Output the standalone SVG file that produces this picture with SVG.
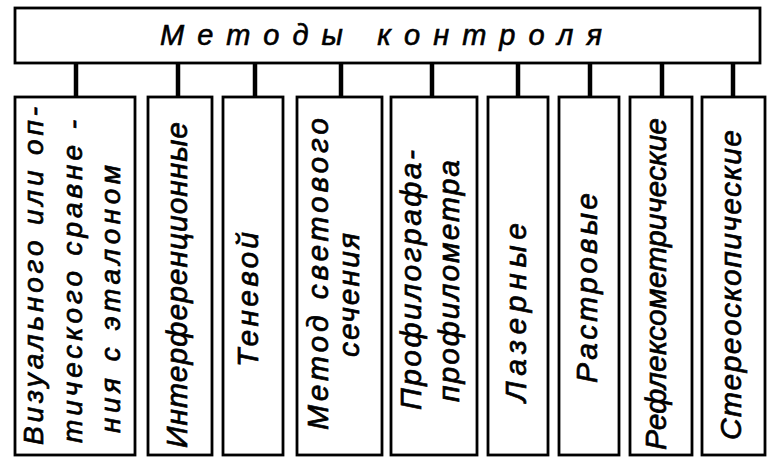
<svg xmlns="http://www.w3.org/2000/svg" width="781" height="474" viewBox="0 0 781 474">
<style>
.box{fill:#fff;stroke:#000;stroke-width:2.8}
.con{stroke:#000;stroke-width:4.5;fill:none}
.t{font-family:"Liberation Sans","DejaVu Sans",sans-serif;font-style:italic;font-size:30px;fill:#000;stroke:#000;stroke-width:0.7}
.title{font-family:"Liberation Sans","DejaVu Sans",sans-serif;font-style:italic;font-size:29px;fill:#000;stroke:#000;stroke-width:0.6}
</style>
<rect width="781" height="474" fill="#fff"/>
<g id="connectors">
<line class="con" x1="76" y1="63" x2="76" y2="97"/>
<line class="con" x1="178" y1="63" x2="178" y2="97"/>
<line class="con" x1="255" y1="63" x2="255" y2="97"/>
<line class="con" x1="341" y1="63" x2="341" y2="97"/>
<line class="con" x1="432" y1="63" x2="432" y2="97"/>
<line class="con" x1="518" y1="63" x2="518" y2="97"/>
<line class="con" x1="590" y1="63" x2="590" y2="97"/>
<line class="con" x1="662" y1="63" x2="662" y2="97"/>
<line class="con" x1="733" y1="63" x2="733" y2="97"/>
</g>
<g id="root">
<rect class="box" x="15" y="8" width="745" height="55"/>
<text class="title" x="160" y="45" textLength="442" lengthAdjust="spacing">Методы контроля</text>
</g>
<g id="n1">
<rect class="box" x="15" y="97" width="120" height="358"/>
<text class="t" style="font-size:28px" transform="translate(43,445) rotate(-90)" textLength="338" lengthAdjust="spacing">Визуального или оп-</text>
<text class="t" style="font-size:28px" transform="translate(82,443) rotate(-90)" textLength="323" lengthAdjust="spacing">тического сравне -</text>
<text class="t" style="font-size:28px" transform="translate(120,433) rotate(-90)" textLength="268" lengthAdjust="spacing">ния с эталоном</text>
</g>
<g id="n2">
<rect class="box" x="148" y="97" width="64" height="358"/>
<text class="t" transform="translate(187,448) rotate(-90)" textLength="326" lengthAdjust="spacing">Интерференционные</text>
</g>
<g id="n3">
<rect class="box" x="223" y="97" width="60" height="358"/>
<text class="t" transform="translate(258,367) rotate(-90)" textLength="135" lengthAdjust="spacing">Теневой</text>
</g>
<g id="n4">
<rect class="box" x="297" y="97" width="85" height="358"/>
<text class="t" transform="translate(328,430) rotate(-90)" textLength="312" lengthAdjust="spacing">Метод светового</text>
<text class="t" transform="translate(359,357) rotate(-90)" textLength="124" lengthAdjust="spacing">сечения</text>
</g>
<g id="n5">
<rect class="box" x="391" y="97" width="86" height="358"/>
<text class="t" transform="translate(421,410) rotate(-90)" textLength="260" lengthAdjust="spacing">Профилографа-</text>
<text class="t" transform="translate(459,402) rotate(-90)" textLength="242" lengthAdjust="spacing">профилометра</text>
</g>
<g id="n6">
<rect class="box" x="488" y="97" width="60" height="358"/>
<text class="t" transform="translate(526,402) rotate(-90)" textLength="179" lengthAdjust="spacing">Лазерные</text>
</g>
<g id="n7">
<rect class="box" x="559" y="97" width="60" height="358"/>
<text class="t" transform="translate(597,383) rotate(-90)" textLength="190" lengthAdjust="spacing">Растровые</text>
</g>
<g id="n8">
<rect class="box" x="630" y="97" width="62" height="358"/>
<text class="t" transform="translate(666,450) rotate(-90)" textLength="332" lengthAdjust="spacing">Рефлексометрические</text>
</g>
<g id="n9">
<rect class="box" x="702" y="97" width="63" height="358"/>
<text class="t" transform="translate(741,440) rotate(-90)" textLength="310" lengthAdjust="spacing">Стереоскопические</text>
</g>
</svg>
